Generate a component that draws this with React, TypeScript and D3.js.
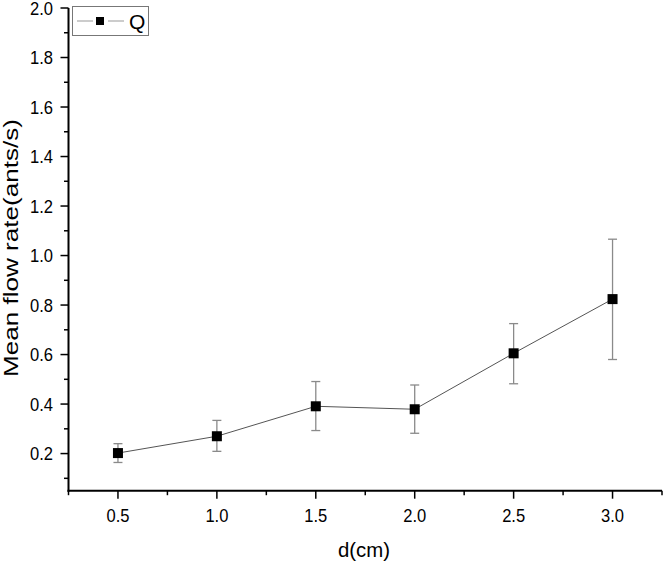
import React from "react";
import * as d3 from "d3";

const dValues = [0.5, 1.0, 1.5, 2.0, 2.5, 3.0];
const meanQ = [0.202, 0.27, 0.391, 0.379, 0.605, 0.824];
const errLow = [0.164, 0.209, 0.293, 0.282, 0.482, 0.58];
const errHigh = [0.24, 0.334, 0.491, 0.477, 0.725, 1.066];
const xMajorTicks = [0.5, 1.0, 1.5, 2.0, 2.5, 3.0];
const xMinorTicks = [0.25, 0.75, 1.25, 1.75, 2.25, 2.75, 3.25];
const yMajorTicks = [0.2, 0.4, 0.6, 0.8, 1.0, 1.2, 1.4, 1.6, 1.8, 2.0];
const yMinorTicks = [0.1, 0.3, 0.5, 0.7, 0.9, 1.1, 1.3, 1.5, 1.7, 1.9];
const seriesName = "Q";

const W = 663;
const H = 563;
const left = 68.5;
const right = 662;
const top = 8;
const bottom = 490.7;

export default function App() {
  const x = d3.scaleLinear().domain([0.25, 3.25]).range([left, right]);
  const y = d3.scaleLinear().domain([0.05, 2.0]).range([bottom, top]);
  const line = d3
    .line<number>()
    .x((_, i) => x(dValues[i]))
    .y((v) => y(v));
  const font = "Arial, 'Liberation Sans', sans-serif";
  const ms = 10;
  const fmt = d3.format(".1f");
  return (
    <svg
      width={W}
      height={H}
      style={{ position: "absolute", left: 0, top: 0, background: "#fff" }}
      fontFamily={font}
    >
      <rect x={0} y={0} width={W} height={H} fill="#fff" />
      {dValues.map((d, i) => (
        <g key={"e" + i} stroke="#8a8a8a" strokeWidth={1.3}>
          <line x1={x(d)} x2={x(d)} y1={y(errLow[i])} y2={y(errHigh[i])} />
          <line x1={x(d) - 4.5} x2={x(d) + 4.5} y1={y(errLow[i])} y2={y(errLow[i])} />
          <line x1={x(d) - 4.5} x2={x(d) + 4.5} y1={y(errHigh[i])} y2={y(errHigh[i])} />
        </g>
      ))}
      <path d={line(meanQ) || ""} fill="none" stroke="#555" strokeWidth={1} />
      {dValues.map((d, i) => (
        <rect
          key={"m" + i}
          x={x(d) - ms / 2}
          y={y(meanQ[i]) - ms / 2}
          width={ms}
          height={ms}
          fill="#000"
        />
      ))}
      <line x1={left} x2={left} y1={top} y2={bottom + 1} stroke="#000" strokeWidth={2} />
      <line x1={left - 1} x2={right} y1={bottom} y2={bottom} stroke="#000" strokeWidth={2} />
      {yMajorTicks.map((t) => (
        <g key={"ym" + t}>
          <line x1={left - 8} x2={left} y1={y(t)} y2={y(t)} stroke="#000" strokeWidth={1.5} />
          <text
            x={53}
            y={y(t)}
            dy="0.36em"
            textAnchor="end"
            fontSize={18.5}
            textLength={23}
            lengthAdjust="spacingAndGlyphs"
          >
            {fmt(t)}
          </text>
        </g>
      ))}
      {yMinorTicks.map((t) => (
        <line key={"yn" + t} x1={left - 4.5} x2={left} y1={y(t)} y2={y(t)} stroke="#000" strokeWidth={1.5} />
      ))}
      {xMajorTicks.map((t) => (
        <g key={"xm" + t}>
          <line x1={x(t)} x2={x(t)} y1={bottom} y2={bottom + 8} stroke="#000" strokeWidth={1.5} />
          <text
            x={x(t)}
            y={522}
            textAnchor="middle"
            fontSize={18.5}
            textLength={23}
            lengthAdjust="spacingAndGlyphs"
          >
            {fmt(t)}
          </text>
        </g>
      ))}
      {xMinorTicks.map((t) => (
        <line key={"xn" + t} x1={x(t)} x2={x(t)} y1={bottom} y2={bottom + 4.5} stroke="#000" strokeWidth={1.5} />
      ))}
      <text
        x={364}
        y={557}
        textAnchor="middle"
        fontSize={19.5}
        textLength={52}
        lengthAdjust="spacingAndGlyphs"
      >
        d(cm)
      </text>
      <text
        transform={`translate(18,248) rotate(-90)`}
        textAnchor="middle"
        fontSize={21}
        textLength={258}
        lengthAdjust="spacingAndGlyphs"
      >
        Mean flow rate(ants/s)
      </text>
      <rect x={72.5} y={6.5} width={76} height={29} fill="#fff" stroke="#777" strokeWidth={1} />
      <line x1={77} x2={93} y1={21} y2={21} stroke="#999" strokeWidth={1} />
      <line x1={108} x2={124} y1={21} y2={21} stroke="#999" strokeWidth={1} />
      <rect x={96} y={17} width={8} height={8} fill="#000" />
      <text x={129} y={29} fontSize={21}>
        {seriesName}
      </text>
    </svg>
  );
}
